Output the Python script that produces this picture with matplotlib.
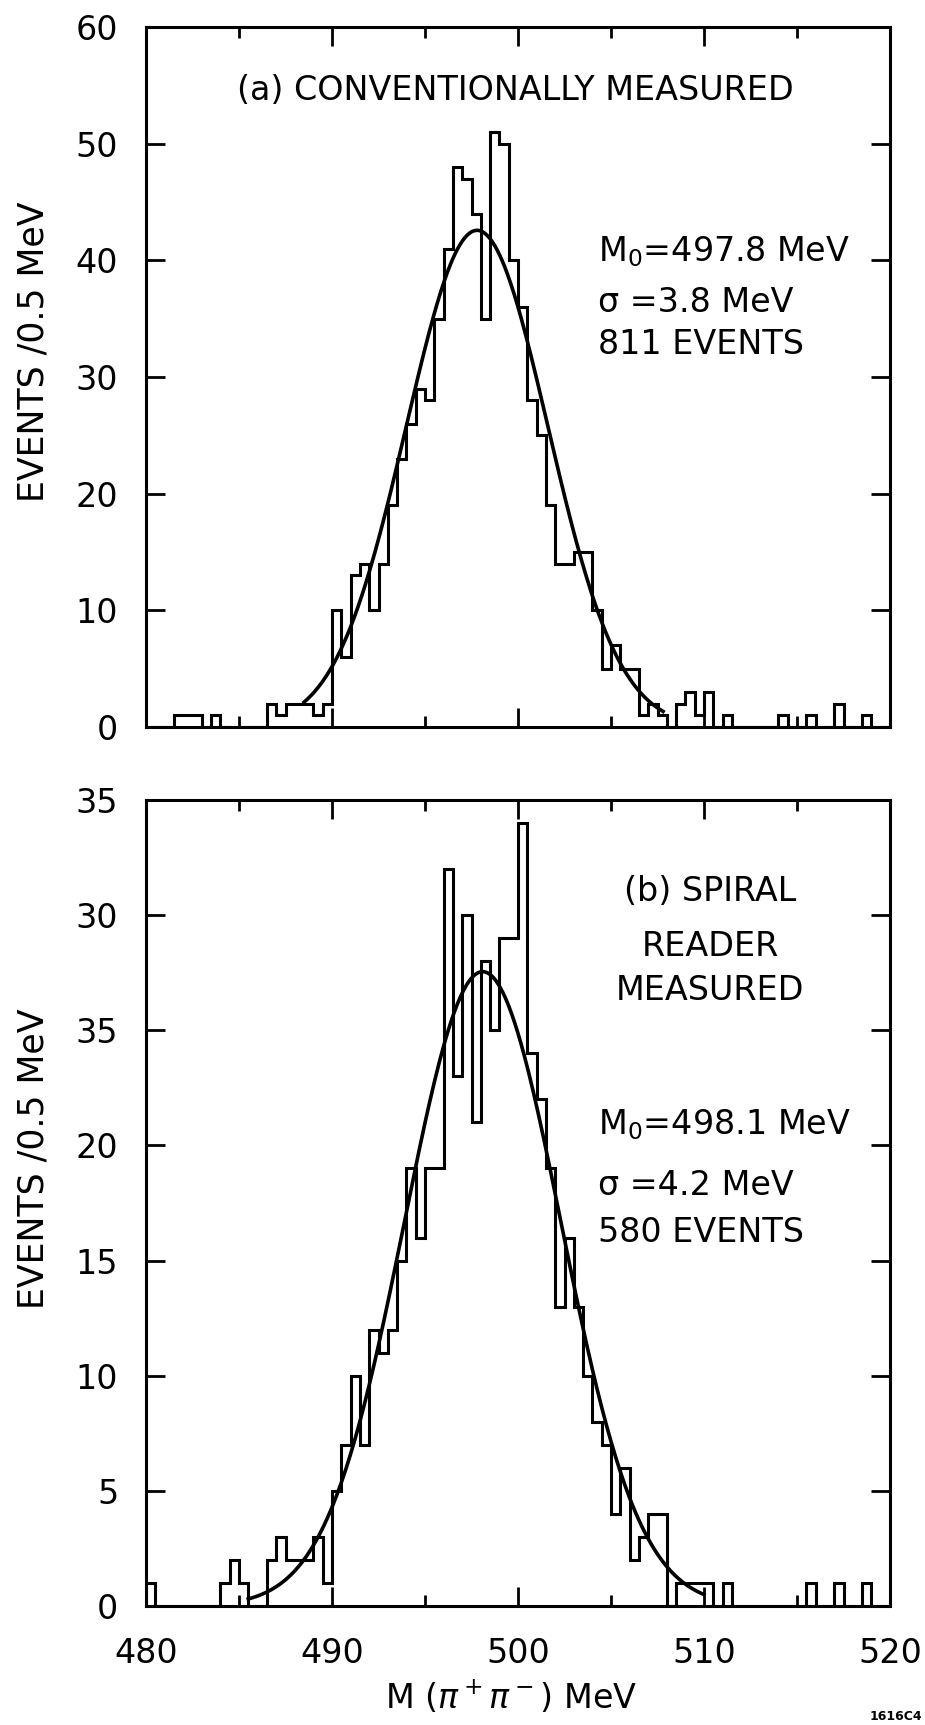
import matplotlib.pyplot as plt
import numpy as np

# 0.5 MeV bins from 480 to 520 MeV (80 bins)
edges = 480 + 0.5 * np.arange(81)

# (a) conventionally measured, events per bin
counts_a = [
    0, 0, 0, 1, 1, 1, 0, 1, 0, 0,
    0, 0, 0, 2, 1, 2, 2, 2, 1, 2,
    10, 6, 13, 14, 10, 14, 19, 23, 26, 29,
    28, 35, 41, 48, 47, 44, 35, 51, 50, 40,
    36, 28, 25, 19, 14, 14, 15, 15, 10, 5,
    7, 5, 5, 1, 2, 1, 0, 2, 3, 1,
    3, 0, 1, 0, 0, 0, 0, 0, 1, 0,
    0, 1, 0, 0, 2, 0, 0, 1, 0, 0,
]

# (b) spiral reader measured, events per bin
counts_b = [
    1, 0, 0, 0, 0, 0, 0, 0, 1, 2,
    1, 0, 0, 2, 3, 2, 2, 2, 3, 1,
    5, 7, 10, 7, 12, 11, 12, 15, 19, 16,
    19, 19, 32, 23, 30, 21, 28, 25, 29, 29,
    34, 24, 22, 19, 13, 16, 13, 10, 8, 7,
    4, 6, 2, 3, 4, 4, 0, 1, 1, 1,
    1, 0, 1, 0, 0, 0, 0, 0, 0, 0,
    0, 1, 0, 0, 1, 0, 0, 1, 0, 0,
]

# fit results printed on the figure
m0_a, sigma_a, n_a = 497.8, 3.8, 811
m0_b, sigma_b, n_b = 498.1, 4.2, 580
fit_range_a = (488.5, 507.8)
fit_range_b = (485.5, 510.0)

# y tick labels of the lower panel, as printed (25 is labelled "35")
ylabels_b = ["0", "5", "10", "15", "20", "35", "30", "35"]


def gauss(x, m0, sigma, n, width=0.5):
    return n * width / (sigma * np.sqrt(2 * np.pi)) * np.exp(-0.5 * ((x - m0) / sigma) ** 2)


plt.rcParams["font.family"] = ["DejaVu Sans"]
plt.rcParams["axes.linewidth"] = 2.2

fig = plt.figure(figsize=(9.25, 17.25), dpi=100)
W, H = 925, 1725
ax_a = fig.add_axes([146 / W, 1 - 727 / H, 744 / W, 700 / H])
ax_b = fig.add_axes([146 / W, 1 - 1606 / H, 744 / W, 806 / H])

for ax, counts, (m0, sig, n), rng in [
    (ax_a, counts_a, (m0_a, sigma_a, n_a), fit_range_a),
    (ax_b, counts_b, (m0_b, sigma_b, n_b), fit_range_b),
]:
    ax.stairs(counts, edges, baseline=0, fill=False, color="black", linewidth=2.2)
    x = np.linspace(rng[0], rng[1], 300)
    ax.plot(x, gauss(x, m0, sig, n), color="black", linewidth=2.6)
    ax.set_xlim(480, 520)
    ax.set_xticks(np.arange(480, 521, 10))
    ax.set_xticks(np.arange(485, 520, 10), minor=True)
    ax.tick_params(axis="both", which="major", direction="in", top=True, right=True,
                   length=14, width=2, labelsize=24)
    ax.tick_params(axis="x", which="minor", direction="in", top=True, bottom=True,
                   length=8, width=2)
    ax.tick_params(axis="y", which="major", pad=20)
    ax.tick_params(axis="x", which="major", pad=22)
    ax.set_ylabel("EVENTS /0.5 MeV", fontsize=25)

# top panel
ax_a.set_ylim(0, 60)
ax_a.set_yticks(np.arange(0, 61, 10))
ax_a.tick_params(axis="x", labelbottom=False)
ax_a.yaxis.set_label_coords(-0.129, 0.536)
ax_a.text(0.497, 0.91, "(a) CONVENTIONALLY MEASURED", transform=ax_a.transAxes,
          ha="center", va="center", fontsize=24)
ax_a.text(0.607, 0.679, "M$_0$=497.8 MeV", transform=ax_a.transAxes,
          ha="left", va="center", fontsize=24)
ax_a.text(0.607, 0.607, "σ =3.8 MeV", transform=ax_a.transAxes,
          ha="left", va="center", fontsize=24)
ax_a.text(0.607, 0.546, "811 EVENTS", transform=ax_a.transAxes,
          ha="left", va="center", fontsize=24)

# bottom panel
ax_b.set_ylim(0, 35)
ax_b.set_yticks(np.arange(0, 36, 5))
ax_b.set_yticklabels(ylabels_b)
ax_b.yaxis.set_label_coords(-0.129, 0.555)
ax_b.text(0.758, 0.886, "(b) SPIRAL", transform=ax_b.transAxes,
          ha="center", va="center", fontsize=24)
ax_b.text(0.758, 0.818, "READER", transform=ax_b.transAxes,
          ha="center", va="center", fontsize=24)
ax_b.text(0.758, 0.764, "MEASURED", transform=ax_b.transAxes,
          ha="center", va="center", fontsize=24)
ax_b.text(0.607, 0.597, "M$_0$=498.1 MeV", transform=ax_b.transAxes,
          ha="left", va="center", fontsize=24)
ax_b.text(0.607, 0.522, "σ =4.2 MeV", transform=ax_b.transAxes,
          ha="left", va="center", fontsize=24)
ax_b.text(0.607, 0.463, "580 EVENTS", transform=ax_b.transAxes,
          ha="left", va="center", fontsize=24)

fig.text(511 / W, 1 - 1697 / H, r"M ($\pi^+\pi^-$) MeV", ha="center", va="center", fontsize=24)
fig.text(896 / W, 1 - 1716 / H, "1616C4", ha="center", va="center", fontsize=9, weight="bold")

fig.savefig("out.png", dpi=100, facecolor="white")
